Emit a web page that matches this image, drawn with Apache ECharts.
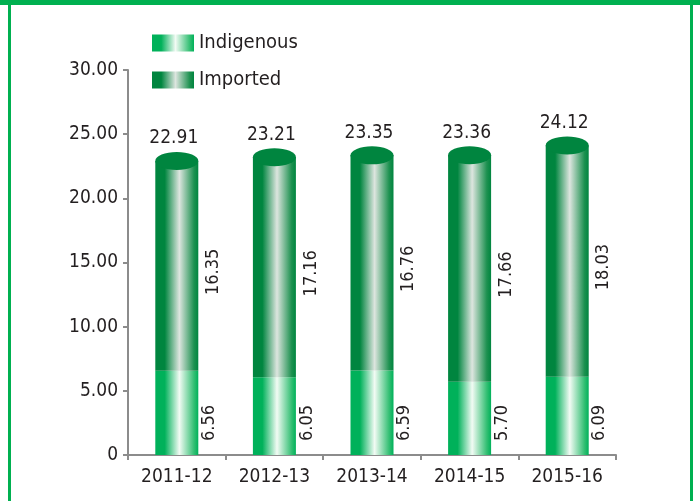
<!DOCTYPE html>
<html>
<head>
<meta charset="utf-8">
<script src="https://cdn.jsdelivr.net/npm/echarts@6/dist/echarts.min.js"></script>
<style>
  html, body { margin: 0; padding: 0; background: #ffffff; }
  #chart { width: 700px; height: 501px; }
</style>
</head>
<body>
<div id="chart"></div>
<script>
// Years on the category axis
var years = ['2011-12', '2012-13', '2013-14', '2014-15', '2015-16'];
// Indigenous and imported quantities per year
var indigenous = [6.56, 6.05, 6.59, 5.70, 6.09];
var imported = [16.35, 17.16, 16.76, 17.66, 18.03];
// Value-axis ticks
var yTicks = [0, 5, 10, 15, 20, 25, 30];

// Stack totals for the cylinder caps and their labels
var totals = years.map(function (_, i) {
  return Math.round((indigenous[i] + imported[i]) * 100) / 100;
});

var FONT = '"DejaVu Sans Condensed", "Liberation Sans Narrow", "Liberation Sans", sans-serif';
var TEXT = '#231f20';
var AXIS = '#8c8c8c';
var FRAME = '#00b050';

function shade(edge, mid, mid2) {
  return {
    type: 'linear', x: 0, y: 0, x2: 1, y2: 0,
    colorStops: [
      { offset: 0, color: edge },
      { offset: 0.22, color: edge },
      { offset: 0.56, color: mid },
      { offset: 0.9, color: mid2 },
      { offset: 1, color: edge }
    ]
  };
}

var chart = echarts.init(document.getElementById('chart'), null, { renderer: 'canvas' });

chart.setOption({
  backgroundColor: '#ffffff',
  animation: false,
  textStyle: { fontFamily: FONT, color: TEXT },
  graphic: [
    { type: 'rect', shape: { x: 0, y: 0, width: 700, height: 5 }, style: { fill: FRAME }, z: 100 },
    { type: 'rect', shape: { x: 8, y: 0, width: 3, height: 501 }, style: { fill: FRAME }, z: 100 },
    { type: 'rect', shape: { x: 690, y: 0, width: 3, height: 501 }, style: { fill: FRAME }, z: 100 }
  ],
  legend: {
    data: ['Indigenous', 'Imported'],
    orient: 'vertical',
    left: 152,
    top: 33,
    padding: 0,
    itemWidth: 42,
    itemHeight: 17,
    itemGap: 17,
    icon: 'rect',
    textStyle: { fontFamily: FONT, fontSize: 20, color: TEXT }
  },
  grid: { left: 128, right: 84, top: 70, bottom: 46, containLabel: false },
  xAxis: {
    type: 'category',
    data: years,
    axisLine: { lineStyle: { color: AXIS, width: 2 } },
    axisTick: { show: true, length: 5, lineStyle: { color: AXIS, width: 2 } },
    axisLabel: { interval: 0, fontFamily: FONT, fontSize: 19, color: TEXT, margin: 13 }
  },
  yAxis: {
    type: 'value',
    min: yTicks[0],
    max: yTicks[yTicks.length - 1],
    interval: yTicks[1] - yTicks[0],
    splitLine: { show: false },
    axisLine: { show: true, lineStyle: { color: AXIS, width: 2 } },
    axisTick: { show: true, length: 5, lineStyle: { color: AXIS, width: 2 } },
    axisLabel: {
      fontFamily: FONT, fontSize: 19, color: TEXT, margin: 10,
      formatter: function (v) { return v === 0 ? '0' : v.toFixed(2); }
    }
  },
  series: [
    {
      name: 'Indigenous',
      type: 'bar',
      stack: 'total',
      barWidth: 43,
      data: indigenous,
      itemStyle: { color: shade('#00b15a', '#f2fbf4', '#33bf73') },
      label: {
        show: true,
        position: ['100%', '100%'],
        offset: [14, 11],
        rotate: 90,
        align: 'left',
        verticalAlign: 'middle',
        fontFamily: FONT, fontSize: 18, color: TEXT,
        formatter: function (p) { return p.value.toFixed(2); }
      }
    },
    {
      name: 'Imported',
      type: 'bar',
      stack: 'total',
      barWidth: 43,
      data: imported,
      itemStyle: { color: shade('#00853f', '#dde5df', '#1d9150') },
      label: {
        show: true,
        position: ['100%', '50%'],
        offset: [-6, 15],
        rotate: 90,
        align: 'center',
        verticalAlign: 'middle',
        fontFamily: FONT, fontSize: 18, color: TEXT,
        formatter: function (p) { return p.value.toFixed(2); }
      }
    },
    {
      name: 'Total',
      type: 'scatter',
      data: totals,
      symbol: 'circle',
      symbolSize: [43, 18],
      z: 5,
      itemStyle: { color: '#00853f', opacity: 1 },
      label: {
        show: true,
        position: 'top',
        distance: 4,
        offset: [-3, 0],
        fontFamily: FONT, fontSize: 19, color: TEXT,
        formatter: function (p) { return p.value.toFixed(2); }
      },
      emphasis: { disabled: true }
    }
  ]
});
</script>
</body>
</html>
